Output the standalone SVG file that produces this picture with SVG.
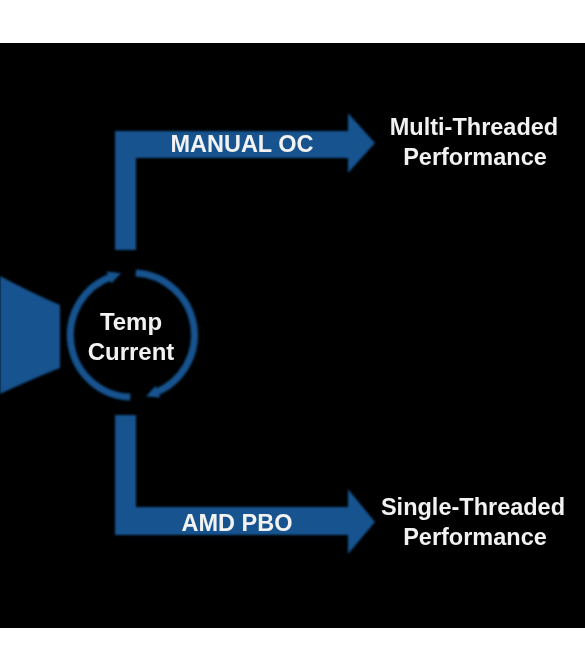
<svg xmlns="http://www.w3.org/2000/svg" width="585" height="672" viewBox="0 0 585 672">
  <style>
    .blue { fill: #13538f; }
    .ring { fill: none; stroke: #13538f; stroke-width: 7; }
    .lbl { font-family: "Liberation Sans", Arial, sans-serif; font-weight: bold; fill: #f2f2f2; text-anchor: middle; }
  </style>
  <defs>
    <filter id="soft" x="-10%" y="-10%" width="120%" height="120%">
      <feGaussianBlur stdDeviation="0.9"/>
    </filter>
    <filter id="txt" x="-5%" y="-20%" width="110%" height="140%">
      <feGaussianBlur stdDeviation="0.35"/>
    </filter>
    <marker id="ah" viewBox="0 0 10 10" refX="2" refY="5" markerWidth="13" markerHeight="13" markerUnits="userSpaceOnUse" orient="auto">
      <path d="M0,0 L10,5 L0,10 Z" fill="#13538f"/>
    </marker>
  </defs>

  <rect x="0" y="0" width="585" height="672" fill="#ffffff"/>
  <rect x="0" y="43" width="585" height="585" fill="#000000"/>

  <g id="source" filter="url(#soft)">
    <path class="blue" d="M0,276 Q32,293 60,305 L60,368 Q32,379 0,394 Z"/>
  </g>

  <g id="connectors" filter="url(#soft)">
    <path id="arrow-manual-oc" class="blue" d="M115,250 L115,131 L348,131 L348,113 L375,143 L348,173 L348,158 L136,158 L136,250 Z"/>
    <path id="arrow-amd-pbo" class="blue" d="M115,415 L136,415 L136,507 L348,507 L348,489 L375,522 L348,554 L348,535 L115,535 Z"/>
  </g>

  <g id="connector-labels" filter="url(#txt)">
    <text class="lbl" x="242" y="152" font-size="23.5">MANUAL OC</text>
    <text class="lbl" x="237" y="531" font-size="23.5">AMD PBO</text>
  </g>

  <g id="cycle">
    <g filter="url(#soft)">
      <path class="ring" d="M130.3,397 A62,62 0 0 1 111.3,276.7" marker-end="url(#ah)"/>
      <path class="ring" d="M135.7,273.1 A62,62 0 0 1 155.7,392.5" marker-end="url(#ah)"/>
    </g>
    <g filter="url(#txt)">
      <text class="lbl" x="131" y="330" font-size="24">Temp</text>
      <text class="lbl" x="131" y="360" font-size="24">Current</text>
    </g>
  </g>

  <g id="multi-threaded" filter="url(#txt)">
    <text class="lbl" x="474" y="135" font-size="23.5">Multi-Threaded</text>
    <text class="lbl" x="475" y="165" font-size="23.5">Performance</text>
  </g>

  <g id="single-threaded" filter="url(#txt)">
    <text class="lbl" x="473" y="515" font-size="23.5">Single-Threaded</text>
    <text class="lbl" x="475" y="545" font-size="23.5">Performance</text>
  </g>
</svg>
